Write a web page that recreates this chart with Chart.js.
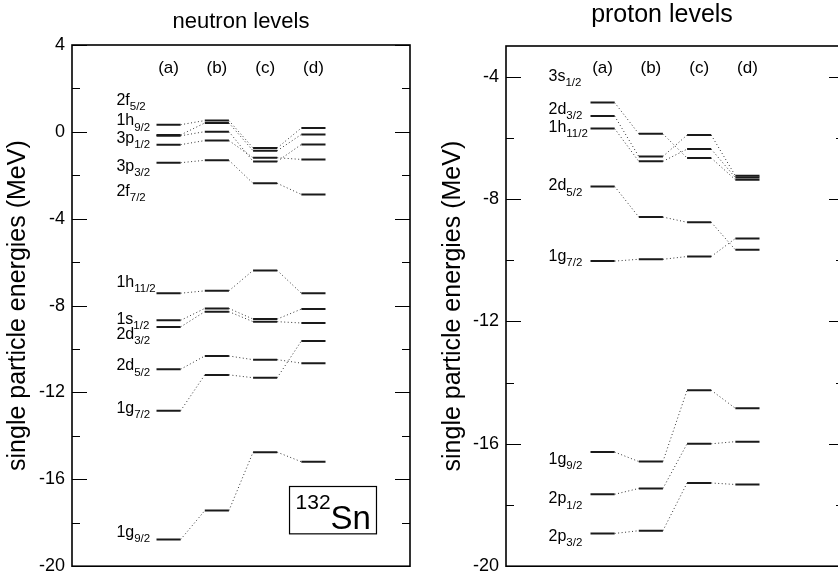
<!DOCTYPE html>
<html><head><meta charset="utf-8">
<script src="https://cdn.jsdelivr.net/npm/chart.js@4.4.0/dist/chart.umd.min.js"></script>
<style>
html,body{margin:0;padding:0;background:#fff;overflow:hidden;width:838px;height:584px;}
#wl{position:absolute;left:0;top:0;width:420px;height:584px;}
#wr{position:absolute;left:420px;top:0;width:440px;height:584px;}
</style></head><body>
<div id="wl"><canvas id="cl"></canvas></div>
<div id="wr"><canvas id="cr"></canvas></div>
<script>
const columns = ['(a)', '(b)', '(c)', '(d)'];

// neutron single particle energies (MeV), one array per calculation column
const neutronA = [0.33, -0.14, -0.18, -0.59, -1.42, -7.43, -8.68, -8.98, -10.93, -12.84, -18.77];
const neutronB = [0.52, 0.41, 0.01, -0.40, -1.31, -7.32, -8.13, -8.28, -10.32, -11.19, -17.44];
const neutronC = [-0.74, -0.87, -1.36, -1.19, -2.37, -6.38, -8.62, -8.74, -10.49, -11.32, -14.75];
const neutronD = [0.18, -0.12, -0.58, -1.27, -2.88, -7.43, -8.16, -8.80, -10.65, -9.63, -15.19];
const neutronLabelMain = ['2f', '1h', '3p', '3p', '2f', '1h', '1s', '2d', '2d', '1g', '1g'];
const neutronLabelSub = ['5/2', '9/2', '1/2', '3/2', '7/2', '11/2', '1/2', '3/2', '5/2', '7/2', '9/2'];
const neutronLabelE = [1.46, 0.50, -0.32, -1.60, -2.74, -6.94, -8.63, -9.32, -10.78, -12.74, -18.45];

// proton single particle energies (MeV)
const protonA = [-4.85, -5.29, -5.70, -7.59, -10.03, -16.27, -17.65, -18.93];
const protonB = [-5.87, -6.61, -6.77, -8.59, -9.97, -16.58, -17.46, -18.84];
const protonC = [-6.66, -5.91, -6.37, -8.76, -9.88, -14.25, -16.00, -17.28];
const protonD = [-7.37, -7.24, -7.30, -9.66, -9.29, -14.84, -15.93, -17.33];
const protonLabelMain = ['3s', '2d', '1h', '2d', '1g', '1g', '2p', '2p'];
const protonLabelSub = ['1/2', '3/2', '11/2', '5/2', '7/2', '9/2', '1/2', '3/2'];
const protonLabelE = [-4.0, -5.07, -5.66, -7.57, -9.88, -16.5, -17.8, -19.04];

const FONT = "'Liberation Sans', Arial, Helvetica, sans-serif";

function levelDatasets(cols) {
  const ds = [];
  const n = cols[0].length;
  for (let i = 0; i < n; i++) {
    const data = [];
    cols.forEach((c, k) => {
      data.push({x: k - 0.25, y: c[i]});
      data.push({x: k + 0.25, y: c[i]});
    });
    ds.push({
      data,
      borderColor: '#1a1a1a',
      borderWidth: 2,
      pointRadius: 0,
      tension: 0,
      segment: {
        borderDash: ctx => ctx.p0DataIndex % 2 === 1 ? [1, 2.5] : [],
        borderWidth: ctx => ctx.p0DataIndex % 2 === 1 ? 1 : 2,
        borderColor: ctx => ctx.p0DataIndex % 2 === 1 ? '#333' : '#1a1a1a'
      }
    });
  }
  return ds;
}

function makeDecor(cfg) {
  return {
    id: 'decor',
    afterDraw(chart) {
      const {ctx, chartArea: a, scales: {x, y}} = chart;
      ctx.save();
      // frame
      ctx.strokeStyle = '#000';
      ctx.lineWidth = 1.6;
      ctx.strokeRect(a.left, a.top, a.right - a.left, a.bottom - a.top);
      // inward ticks
      ctx.lineWidth = 1.2;
      y.ticks.forEach(t => {
        const v = t.value;
        if (Math.abs(v % 2) > 1e-9) return;
        const major = Math.abs(v % 4) < 1e-9;
        const len = major ? 15 : 8;
        const py = Math.round(y.getPixelForValue(v)) + 0.5;
        ctx.beginPath();
        ctx.moveTo(a.left, py); ctx.lineTo(a.left + len, py);
        ctx.moveTo(a.right, py); ctx.lineTo(a.right - len, py);
        ctx.stroke();
      });
      ctx.fillStyle = '#000';
      // column heads
      ctx.font = '17px ' + FONT;
      ctx.textAlign = 'center';
      ctx.textBaseline = 'middle';
      columns.forEach((c, k) => ctx.fillText(c, x.getPixelForValue(k), 68));
      // level labels
      ctx.textAlign = 'left';
      cfg.main.forEach((m, i) => {
        const px = x.getPixelForValue(cfg.labelX);
        const py = y.getPixelForValue(cfg.labelE[i]);
        ctx.font = '16px ' + FONT;
        ctx.fillText(m, px, py);
        const w = ctx.measureText(m).width;
        ctx.font = '11.5px ' + FONT;
        ctx.fillText(cfg.sub[i], px + w, py + 6.5);
      });
      // title
      ctx.font = cfg.titleSize + 'px ' + FONT;
      ctx.textAlign = 'center';
      ctx.fillText(cfg.title, cfg.titleX, cfg.titleY);
      // y axis title
      ctx.save();
      ctx.translate(cfg.axisTitleX, (a.top + a.bottom) / 2);
      ctx.rotate(-Math.PI / 2);
      ctx.font = '25px ' + FONT;
      ctx.fillText('single particle energies (MeV)', 0, 0);
      ctx.restore();
      // nucleus box
      if (cfg.box) {
        const bx0 = x.getPixelForValue(cfg.box.x0), bx1 = x.getPixelForValue(cfg.box.x1);
        const by0 = y.getPixelForValue(cfg.box.y0), by1 = y.getPixelForValue(cfg.box.y1);
        ctx.lineWidth = 1.2;
        ctx.strokeRect(bx0, by0, bx1 - bx0, by1 - by0);
        ctx.textAlign = 'left';
        ctx.textBaseline = 'alphabetic';
        ctx.font = '21px ' + FONT;
        ctx.fillText('132', bx0 + 6, by0 + 23);
        ctx.font = '33px ' + FONT;
        ctx.fillText('Sn', bx0 + 41, by1 - 5);
      }
      ctx.restore();
    }
  };
}

function makeChart(id, cols, yMin, yMax, axisW, pad, decor) {
  return new Chart(document.getElementById(id), {
    type: 'line',
    data: {datasets: levelDatasets(cols)},
    options: {
      responsive: true,
      maintainAspectRatio: false,
      animation: false,
      layout: {padding: pad},
      plugins: {legend: {display: false}, tooltip: {enabled: false}, title: {display: false}},
      scales: {
        x: {type: 'linear', min: -2, max: 5, display: false},
        y: {
          type: 'linear', min: yMin, max: yMax,
          grid: {display: false, drawTicks: false},
          border: {display: false},
          afterFit: s => { s.width = axisW; },
          ticks: {
            stepSize: 2,
            padding: 7,
            color: '#000',
            font: {family: FONT, size: 18},
            callback: v => (Math.abs(v % 4) < 1e-9 ? String(v) : '')
          }
        }
      }
    },
    plugins: [makeDecor(decor)]
  });
}

makeChart('cl', [neutronA, neutronB, neutronC, neutronD], -20, 4, 72,
  {left: 0, top: 45, right: 10, bottom: 13},
  {main: neutronLabelMain, sub: neutronLabelSub, labelE: neutronLabelE, labelX: -1.08,
   title: 'neutron levels', titleSize: 22, titleX: 241, titleY: 22, axisTitleX: 18,
   box: {x0: 2.505, x1: 4.306, y0: -16.33, y1: -18.51}});

makeChart('cr', [protonA, protonB, protonC, protonD], -20, -3, 86,
  {left: 0, top: 46, right: 16, bottom: 14},
  {main: protonLabelMain, sub: protonLabelSub, labelE: protonLabelE, labelX: -1.12,
   title: 'proton levels', titleSize: 25, titleX: 242, titleY: 15, axisTitleX: 33});
</script>
</body></html>
